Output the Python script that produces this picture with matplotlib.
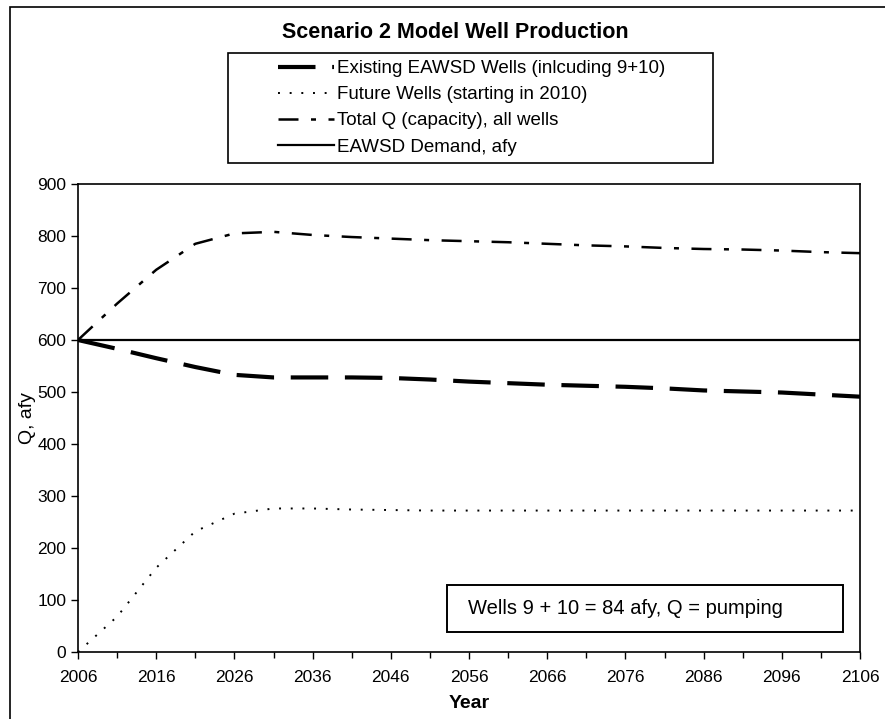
import matplotlib.pyplot as plt
from matplotlib.patches import Rectangle

plt.rcParams['font.family'] = ['Liberation Sans', 'DejaVu Sans']

# valori (ogni 5 anni)
years = [2006, 2011, 2016, 2021, 2026, 2031, 2036, 2041, 2046, 2051, 2056,
         2061, 2066, 2071, 2076, 2081, 2086, 2091, 2096, 2101, 2106]
existing = [600, 583, 565, 548, 533, 528, 528, 528, 527, 524, 520,
            517, 514, 512, 510, 507, 503, 501, 499, 495, 491]
future = [0, 68, 162, 232, 266, 276, 276, 274, 273, 272, 272,
          272, 272, 272, 272, 272, 272, 272, 272, 272, 272]
total = [600, 670, 735, 785, 805, 808, 802, 798, 795, 792, 790,
         788, 785, 782, 780, 777, 775, 774, 772, 769, 767]
demand = [600] * len(years)

labels = ['Existing EAWSD Wells (inlcuding 9+10)', 'Future Wells (starting in 2010)',
          'Total Q (capacity), all wells', 'EAWSD Demand, afy']

W, H = 885, 719
fig = plt.figure(figsize=(W / 100, H / 100), dpi=100)
ax = fig.add_axes([78 / W, 1 - 652 / H, 782 / W, 468 / H])

l1, = ax.plot(years, existing, color='black', lw=3.0, dashes=(9, 4))
l2, = ax.plot(years, future, color='black', lw=1.4, dashes=(1, 5))
l3, = ax.plot(years, total, color='black', lw=1.8, dashes=(8, 5, 2, 5))
l4, = ax.plot(years, demand, color='black', lw=1.6)

ax.set_xlim(2006, 2106)
ax.set_ylim(0, 900)
ax.set_xticks(range(2006, 2107, 10))
ax.set_xticks(range(2011, 2107, 10), minor=True)
ax.set_yticks(range(0, 901, 100))
ax.tick_params(axis='both', which='both', direction='out', labelsize=12.5, width=1)
ax.tick_params(which='major', length=5)
ax.tick_params(which='minor', length=4)
ax.tick_params(axis='x', which='major', pad=8)
for s in ax.spines.values():
    s.set_linewidth(1.2)
ax.set_xlabel('Year', fontsize=14, fontweight='bold', labelpad=7)
ax.set_ylabel('Q, afy', fontsize=14, labelpad=1)

fig.text(455 / W, 1 - 33 / H, 'Scenario 2 Model Well Production', ha='center', va='center',
         fontsize=15.5, fontweight='bold')

# riquadro legenda
fig.patches.append(Rectangle((228 / W, 1 - 163 / H), 485 / W, 110 / H, transform=fig.transFigure,
                             fill=False, edgecolor='black', lw=1.2))
fig.legend([l1, l2, l3, l4], labels, loc='upper left', bbox_to_anchor=(278 / W, 1 - 60 / H),
           fontsize=13.5, frameon=False, handlelength=3.0, handletextpad=0.15,
           labelspacing=0.48, borderaxespad=0, borderpad=0)

# riquadro nota
fig.patches.append(Rectangle((447 / W, 1 - 632 / H), 396 / W, 47 / H, transform=fig.transFigure,
                             facecolor='white', edgecolor='black', lw=1.4, zorder=5))
fig.text(468 / W, 1 - 608 / H, 'Wells 9 + 10 = 84 afy, Q = pumping', ha='left', va='center',
         fontsize=14.5, zorder=6)

# bordo esterno
fig.patches.append(Rectangle((10 / W, -0.05), 1.05, 1.05 - 7 / H, transform=fig.transFigure,
                             fill=False, edgecolor='black', lw=1.2))

fig.savefig('out.png', dpi=100)
